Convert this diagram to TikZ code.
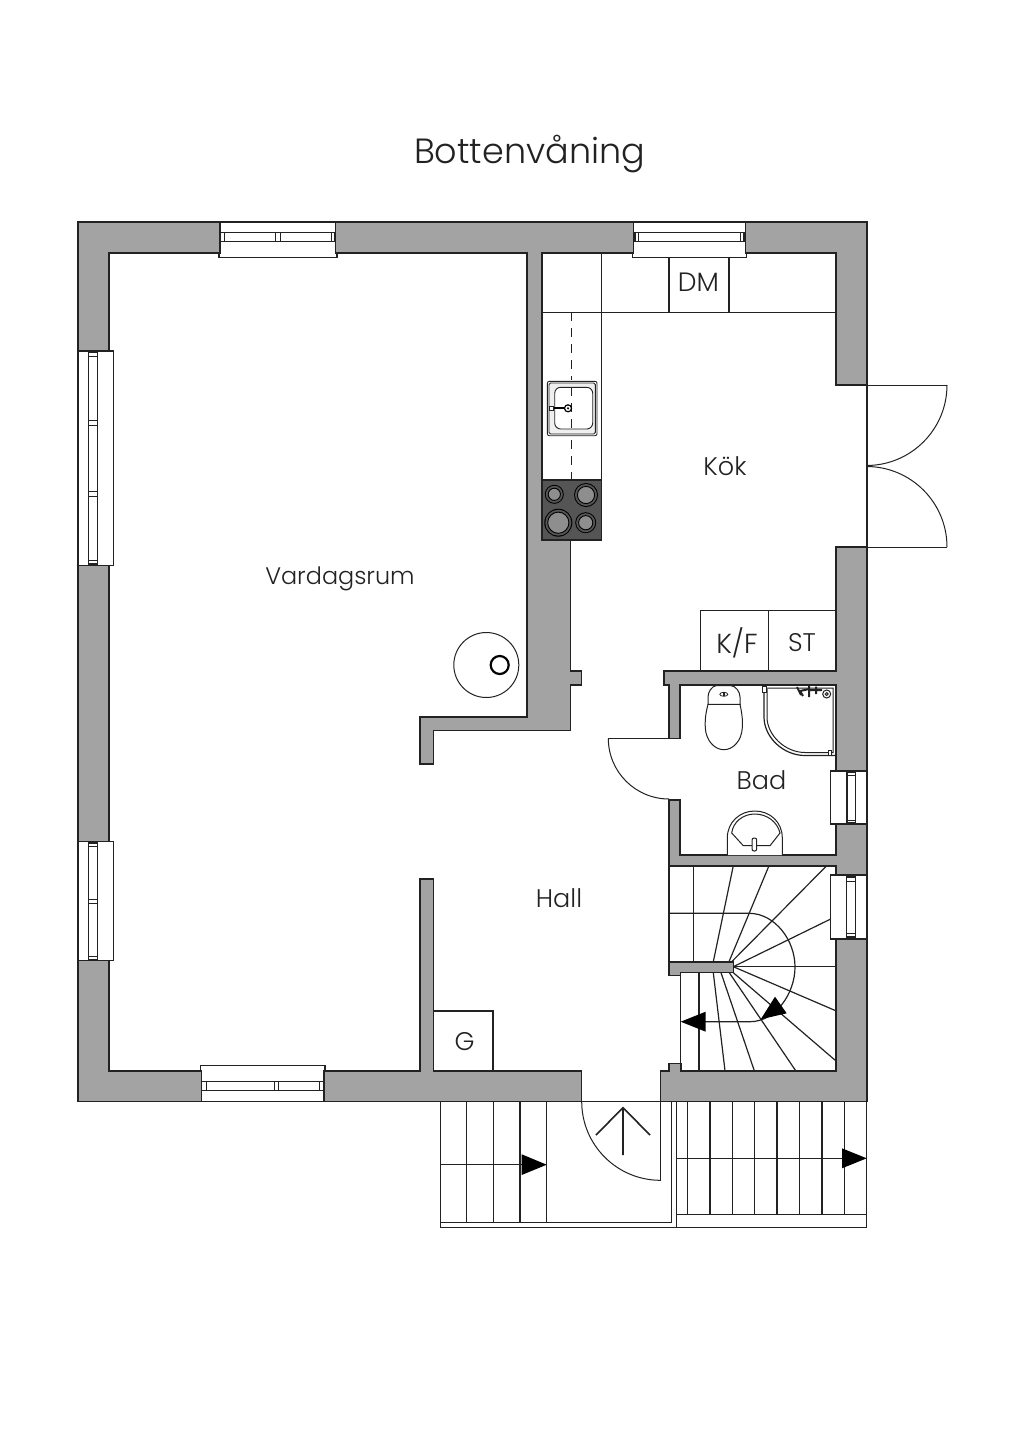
\documentclass[tikz,border=0pt]{standalone}
\usepackage{fontspec}
\setmainfont{Poppins Light}
\definecolor{wallc}{HTML}{A3A3A3}
\definecolor{stovec}{HTML}{555555}
\definecolor{ringc}{HTML}{8E8E8E}
\definecolor{inkc}{HTML}{222222}
\tikzset{
  wall/.style={fill=wallc,draw=inkc,line width=1.2pt,line join=miter},
  room/.style={fill=white,draw=inkc,line width=1.2pt,line join=miter},
  winbox/.style={fill=white,draw=inkc,line width=1.1pt},
  glaz/.style={fill=white,draw=inkc,line width=1.1pt},
  thin/.style={draw=inkc,line width=1pt},
  med/.style={draw=inkc,line width=1.2pt},
  lab/.style={inner sep=0pt,font=\fontsize{25.5}{25.5}\selectfont,text=inkc},
  burner/.style={fill=ringc,draw=black,line width=0.9pt}
}
\begin{document}
\begin{tikzpicture}[x=1pt,y=-1pt]
\useasboundingbox (0,0) rectangle (1024,1448);
\fill[white] (0,0) rectangle (1024,1448);
% outer walls
\draw[wall] (78,222) rectangle (867,1101.5);
% rooms
\draw[room] (109,253) -- (527,253) -- (527,717) -- (420,717) -- (420,764) -- (433.5,764) -- (433.5,730.5) -- (570.7,730.5) -- (570.7,685) -- (581.5,685) -- (581.5,671) -- (570.7,671) -- (570.7,540) -- (542,540) -- (542,253) -- (836,253) -- (836,385) -- (867,385) -- (867,547) -- (836,547) -- (836,671) -- (664,671) -- (664,685) -- (669,685) -- (669,738.3) -- (680,738.3) -- (680,685) -- (836,685) -- (836,855) -- (680,855) -- (680,800) -- (669,800) -- (669,866) -- (836,866) -- (836,1071) -- (681,1071) -- (681,1063.3) -- (669,1063.3) -- (669,1071) -- (660.3,1071) -- (660.3,1101.5) -- (581.7,1101.5) -- (581.7,1071) -- (433.5,1071) -- (433.5,879) -- (420,879) -- (420,1071) -- (109,1071) -- cycle;
% stair partition
\draw[wall] (669,962) -- (733.3,962) -- (733.3,972.7) -- (680.7,972.7) -- (680.7,975.7) -- (669,975.7) -- cycle;
\draw[med] (669,866) -- (669,962) (680.7,975.7) -- (680.7,1063.3);
% windows: top left
\draw[winbox] (220,222) -- (335.7,222) -- (335.7,253) -- (337,253) -- (337,257.7) -- (219,257.7) -- (219,253) -- (220,253) -- cycle;
\draw[glaz] (220.7,232.7) rectangle (335,241.7);
\draw[thin] (224.5,232.7) -- (224.5,241.7) (275.7,232.7) -- (275.7,241.7) (280,232.7) -- (280,241.7) (331.5,232.7) -- (331.5,241.7);
% top right
\draw[winbox] (633.3,222) -- (745.7,222) -- (745.7,253) -- (746.7,253) -- (746.7,257.7) -- (632.3,257.7) -- (632.3,253) -- (633.3,253) -- cycle;
\draw[glaz] (635,232.7) rectangle (744,241.7);
\draw[thin] (638.5,232.7) -- (638.5,241.7) (740.5,232.7) -- (740.5,241.7);
% bottom
\draw[winbox] (201.7,1101.5) -- (201.7,1071) -- (200.7,1071) -- (200.7,1065.7) -- (325,1065.7) -- (325,1071) -- (324,1071) -- (324,1101.5) -- cycle;
\draw[glaz] (201.7,1081.7) rectangle (324,1090.7);
\draw[thin] (206,1081.7) -- (206,1090.7) (274,1081.7) -- (274,1090.7) (278.3,1081.7) -- (278.3,1090.7) (319.5,1081.7) -- (319.5,1090.7);
% left 1
\draw[winbox] (78,351) -- (113.3,351) -- (113.3,565.7) -- (78,565.7) -- cycle;
\draw[glaz] (88.7,352.5) rectangle (97.5,564);
\draw[thin] (88.7,356.7) -- (97.5,356.7) (88.7,420.7) -- (97.5,420.7) (88.7,425.3) -- (97.5,425.3) (88.7,491.7) -- (97.5,491.7) (88.7,496.3) -- (97.5,496.3) (88.7,560) -- (97.5,560);
% left 2
\draw[winbox] (78,841.7) -- (113.3,841.7) -- (113.3,960.7) -- (78,960.7) -- cycle;
\draw[glaz] (88.5,843) rectangle (97.3,959.5);
\draw[thin] (88.5,846.7) -- (97.3,846.7) (88.5,899) -- (97.3,899) (88.5,903.3) -- (97.3,903.3) (88.5,956) -- (97.3,956);
% right bath
\draw[winbox] (830.7,771) rectangle (867,824);
\draw[glaz] (847,772.5) rectangle (855.7,823);
\draw[thin] (847,775.7) -- (855.7,775.7) (847,820) -- (855.7,820);
% right stair
\draw[winbox] (830.7,875) rectangle (867,939);
\draw[glaz] (846.7,877) rectangle (855.7,937);
\draw[thin] (846.7,881) -- (855.7,881) (846.7,933) -- (855.7,933);
% kitchen bench
\draw[med] (542,312.3) -- (836,312.3) (601.7,253) -- (601.7,480);
\draw[med] (669,257.7) -- (669,312.3) (729,257.7) -- (729,312.3);
\draw[thin,dash pattern=on 9pt off 7pt] (571.3,312.3) -- (571.3,480);
% sink
\fill[white] (546,380) rectangle (598,437);
\draw[fill=white,draw=inkc,line width=0.9pt,rounded corners=2pt] (547.3,381.3) rectangle (597,435.7);
\draw[fill=ringc!14,draw=inkc,line width=0.9pt,rounded corners=1.5pt] (549,383) rectangle (595.3,434);
\draw[fill=white,draw=inkc,line width=0.9pt,rounded corners=6pt] (554.7,387.3) rectangle (592.7,429);
\draw[thin,dash pattern=on 9pt off 7pt] (571.3,387.3) -- (571.3,429);
\draw[draw=black,line width=1.6pt] (550,408) -- (565,408);
\draw[fill=white,draw=inkc,line width=0.7pt] (549.5,406) rectangle (553,410);
\draw[fill=white,draw=black,line width=1.2pt] (568,408.3) circle[radius=3.5];
\fill[black] (568,408.3) circle[radius=1.2];
% stove
\draw[fill=stovec,draw=inkc,line width=1.2pt] (542,480) rectangle (601.7,540);
\foreach \cx/\cy/\rr in {554.3/494.3/9.5, 586/495/12, 558.3/522.7/14, 585.7/522.7/10.5}{
  \draw[fill=black,draw=none] (\cx,\cy) circle[radius=\rr];
  \draw[fill=stovec,draw=none] (\cx,\cy) circle[radius=\rr-1];
  \draw[burner] (\cx,\cy) circle[radius=\rr-3.4];
}
% outer door kitchen
\draw[thin] (836,385) -- (947,385) (836,547) -- (947,547);
\draw[thin] (947,385) arc[start angle=0,end angle=90,radius=80.5];
\draw[thin] (947,547) arc[start angle=0,end angle=-90,radius=80.5];
\draw[thin] (867,385) -- (867,547);
% K/F, ST boxes
\draw[med] (700.7,671) -- (700.7,610.7) -- (836,610.7) (768.3,610.7) -- (768.3,671);
% fireplace
\draw[fill=white,draw=inkc,line width=1pt] (486.3,665) circle[radius=32.5];
\draw[draw=black,line width=2.2pt] (499.7,665) circle[radius=9];
% G box
\draw[med] (433.5,1011) -- (493,1011) -- (493,1071);
% bath door
\draw[thin] (669,738.3) -- (608.3,738.3);
\draw[thin] (608.3,738.3) arc[start angle=180,end angle=90,radius=60.7];
% toilet
\draw[thin,fill=white] (708,704.3) .. controls (705,716) and (705,722) .. (705.3,728) .. controls (706,741) and (715,749.7) .. (723.8,749.7) .. controls (733,749.7) and (741.5,741) .. (742.3,728) .. controls (742.6,722) and (742.6,716) .. (740,704.3) -- cycle;
\draw[thin,fill=white] (708,704.3) -- (708,697) .. controls (708,692) and (712,686) .. (716,685.7) -- (731,685.7) .. controls (736,686) and (740,692) .. (740,697) -- (740,704.3) -- cycle;
\draw[line width=0.8pt,fill=white,draw=inkc] (723.8,694.3) ellipse[x radius=4,y radius=2];
\fill[inkc] (722.8,692.5) rectangle (724.8,696);
% shower
\draw[med] (764,686) -- (764,717) .. controls (764,737) and (783,755.5) .. (805,755.5) -- (836,755.5);
\draw[thin] (767,689) -- (767,717) .. controls (767,735) and (785,752.5) .. (805,752.5) -- (833,752.5) -- (833,688) -- (767,688);
\draw[thin,fill=white] (762.8,686) rectangle (766.5,692);
\draw[thin,fill=white] (828,750.7) rectangle (831,755);
\draw[thin,fill=white] (826.7,694) circle[radius=4];
\draw[thin] (826.7,694) circle[radius=1.5];
\draw[line width=2pt,draw=inkc] (797,687) -- (801,695) (803,696) -- (800,691) -- (809,689) (809,686) -- (809,697) (809,690) -- (822,690) (816,686.5) -- (816,694);
% bathroom sink
\draw[thin,fill=white] (727.3,855) -- (727.3,838) .. controls (727.3,822) and (740,811) .. (754.8,811) .. controls (770,811) and (782.3,822) .. (782.3,838) -- (782.3,855);
\draw[thin] (731.7,833) .. controls (733,822) and (743,814) .. (754.8,814) .. controls (767,814) and (777.5,822) .. (780,833) -- (770,845.7) -- (743.3,845.7) -- cycle;
\draw[thin,fill=white,rounded corners=2pt] (752,838) rectangle (756.7,851);
% indoor stairs
\draw[med] (693.3,866) -- (693.3,962);
\draw[med] (669,913.3) -- (750,913.3) .. controls (775,914) and (795,940) .. (795,967) .. controls (795,994) and (775,1021.7) .. (750,1021.7) -- (700,1021.7);
\foreach \xa/\ya/\xb/\yb in {713.3/961.7/733.3/865.7, 729/961.7/769/865.7, 731.7/961.7/826.7/865.7, 733.3/966.7/830.7/919, 733.3/966.7/835.7/966.7, 733.3/966.7/835.7/1010.7, 733.3/972.7/835.7/1060.7, 729.3/972.7/795.7/1070.7, 721/972.7/754.3/1070.7, 713.3/972.7/725/1070.7, 699/972.7/699/1070.7}{
  \draw[med] (\xa,\ya) -- (\xb,\yb);
}
\fill[black] (680.7,1021.7) -- (705.7,1011.7) -- (705.7,1031.7) -- cycle;
\fill[black] (775,996.7) -- (786.7,1013.3) -- (760.7,1019.3) -- cycle;
% entrance stairs left
\draw[thin] (440,1101.5) -- (440,1227.3) -- (866.7,1227.3) -- (866.7,1101.5);
\draw[med] (440,1222.7) -- (671.7,1222.7) -- (671.7,1101.5);
\draw[thin] (676.3,1101.5) -- (676.3,1227.3);
\foreach \xx in {466.7,493.3,520,546.7}{ \draw[med] (\xx,1101.5) -- (\xx,1222.7); }
\draw[thin] (440,1164.7) -- (525,1164.7);
\fill[black] (546.7,1164.7) -- (521.7,1154.3) -- (521.7,1175) -- cycle;
% entrance stairs right
\foreach \xx in {687.3,710,732.3,754.7,777,799.7,822,844.7}{ \draw[med] (\xx,1101.5) -- (\xx,1214.7); }
\draw[thin] (676.3,1214.7) -- (866.7,1214.7);
\draw[thin] (676.3,1158.3) -- (845,1158.3);
\fill[black] (866.7,1158.3) -- (842,1148.3) -- (842,1168.3) -- cycle;
% entrance door
\draw[med] (440,1101.5) -- (867,1101.5);
\draw[thin] (660.3,1101.5) -- (660.3,1180.7);
\draw[thin] (581.7,1101.5) arc[start angle=180,end angle=90,radius=78.8];
\draw[line width=1.6pt,draw=inkc] (623,1155) -- (623,1107.7) (596,1135) -- (623,1107.7) -- (650,1135);
% labels
\node[inner sep=0pt,font=\fontsize{35}{35}\selectfont,text=inkc] (title) at (529.5,154) {Bottenvåning};
\node[lab,font=\fontsize{23.9}{24}\selectfont] (vardagsrum) at (340,578.5) {Vardagsrum};
\node[lab] (kok) at (725,466) {Kök};
\node[lab,font=\fontsize{26.5}{27}\selectfont] (dm) at (698.5,282.5) {DM};
\node[lab,font=\fontsize{27.5}{28}\selectfont] (kf) at (737,643) {K/F};
\node[lab] (st) at (802,642.5) {ST};
\node[lab] (bad) at (761.5,780) {Bad};
\node[lab] (hall) at (559,898) {Hall};
\node[lab] (g) at (464.5,1041.5) {G};
\end{tikzpicture}
\end{document}
